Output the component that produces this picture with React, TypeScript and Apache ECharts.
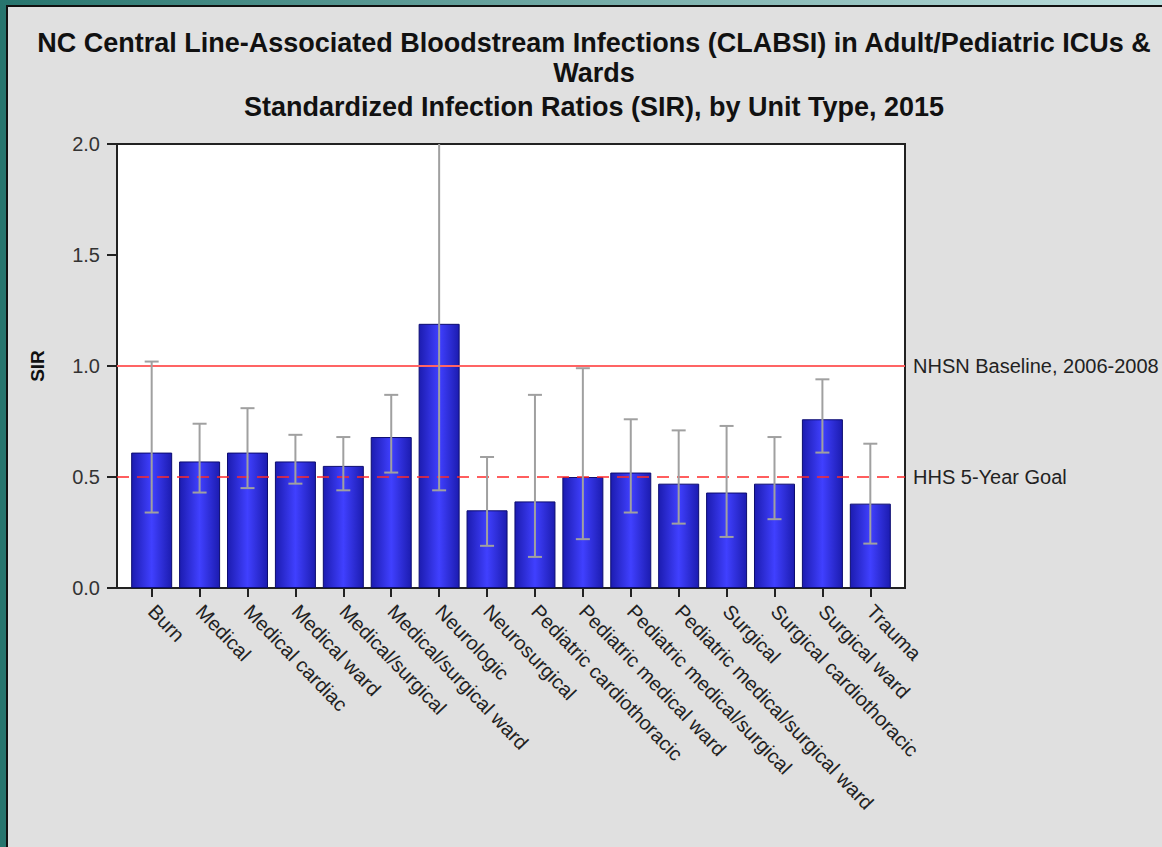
import React, { useEffect, useRef } from "react";
import * as echarts from "echarts";

// Unit types and SIR estimates with 95% confidence limits
const categories = [
  "Burn",
  "Medical",
  "Medical cardiac",
  "Medical ward",
  "Medical/surgical",
  "Medical/surgical ward",
  "Neurologic",
  "Neurosurgical",
  "Pediatric cardiothoracic",
  "Pediatric medical ward",
  "Pediatric medical/surgical",
  "Pediatric medical/surgical ward",
  "Surgical",
  "Surgical cardiothoracic",
  "Surgical ward",
  "Trauma",
];
const sir = [0.61, 0.57, 0.61, 0.57, 0.55, 0.68, 1.19, 0.35, 0.39, 0.5, 0.52, 0.47, 0.43, 0.47, 0.76, 0.38];
const lowerCI = [0.34, 0.43, 0.45, 0.47, 0.44, 0.52, 0.44, 0.19, 0.14, 0.22, 0.34, 0.29, 0.23, 0.31, 0.61, 0.2];
const upperCI = [1.02, 0.74, 0.81, 0.69, 0.68, 0.87, 2.6, 0.59, 0.87, 0.99, 0.76, 0.71, 0.73, 0.68, 0.94, 0.65];

const yTicks = [0, 0.5, 1.0, 1.5, 2.0];
const baseline = { value: 1.0, label: "NHSN Baseline, 2006-2008" };
const goal = { value: 0.5, label: "HHS 5-Year Goal" };

const titleLines = [
  "NC Central Line-Associated Bloodstream Infections (CLABSI) in Adult/Pediatric ICUs &",
  "Wards",
  "Standardized Infection Ratios (SIR), by Unit Type, 2015",
];

const FONT = "'Liberation Sans', Arial, sans-serif";

export default function App() {
  const ref = useRef<HTMLDivElement>(null);

  useEffect(() => {
    if (!ref.current) return;
    const chart = echarts.init(ref.current, undefined, { renderer: "svg" });
    const yMin = yTicks[0];
    const yMax = yTicks[yTicks.length - 1];
    const titleY = [43, 73, 107];
    const positions = categories.map((_, i) => i);
    // extra room on both sides of the first and last bar
    const edgePad = 0.724;

    chart.setOption({
      animation: false,
      backgroundColor: "#e0e0e0",
      textStyle: { fontFamily: FONT },
      graphic: [
        { type: "rect", shape: { x: 0, y: 0, width: 6, height: 847 }, style: { fill: "#27756e" } },
        {
          type: "rect",
          shape: { x: 0, y: 0, width: 1162, height: 5 },
          style: {
            fill: new echarts.graphic.LinearGradient(0, 0, 1, 0, [
              { offset: 0, color: "#27756e" },
              { offset: 1, color: "#bfe0df" },
            ]),
          },
        },
        { type: "rect", shape: { x: 6, y: 5, width: 2, height: 842 }, style: { fill: "#111" } },
        { type: "rect", shape: { x: 6, y: 5, width: 1156, height: 2 }, style: { fill: "#111" } },
        ...titleLines.map((t, i) => ({
          type: "text",
          x: 594,
          y: titleY[i],
          style: {
            text: t,
            font: `bold 27px ${FONT}`,
            fill: "#111",
            textAlign: "center",
            textVerticalAlign: "middle",
          },
        })),
      ],
      grid: {
        left: 117,
        top: 144,
        right: 257,
        bottom: 259,
        show: true,
        backgroundColor: "#ffffff",
        borderColor: "#222",
        borderWidth: 2,
      },
      xAxis: {
        type: "value",
        min: -edgePad,
        max: categories.length - 1 + edgePad,
        splitLine: { show: false },
        axisLine: { show: true, onZero: false, lineStyle: { color: "#222", width: 2 } },
        axisTick: {
          show: true,
          customValues: positions,
          length: 9,
          lineStyle: { color: "#222", width: 2 },
        },
        axisLabel: {
          customValues: positions,
          rotate: -46,
          margin: 20,
          fontSize: 20,
          color: "#222",
          fontFamily: FONT,
          formatter: (v: number) => categories[Math.round(v)] ?? "",
        },
      },
      yAxis: {
        type: "value",
        min: yMin,
        max: yMax,
        interval: 0.5,
        name: "SIR",
        nameLocation: "middle",
        nameRotate: 90,
        nameGap: 70,
        nameTextStyle: { fontSize: 19, fontWeight: "bold", color: "#111", fontFamily: FONT },
        axisLine: { show: true, onZero: false, lineStyle: { color: "#222", width: 2 } },
        axisTick: { show: true, length: 10, lineStyle: { color: "#222", width: 2 } },
        splitLine: { show: false },
        axisLabel: {
          fontSize: 20,
          color: "#333",
          margin: 17,
          fontFamily: FONT,
          formatter: (v: number) => v.toFixed(1),
        },
      },
      series: [
        {
          type: "bar",
          data: sir.map((v, i) => [i, v]),
          barWidth: 41,
          itemStyle: {
            color: new echarts.graphic.LinearGradient(0, 0, 1, 0, [
              { offset: 0, color: "#1c1cb0" },
              { offset: 0.5, color: "#4040ff" },
              { offset: 1, color: "#1c1cb0" },
            ]),
            borderColor: "#0c0c70",
            borderWidth: 1,
          },
          markLine: {
            silent: true,
            symbol: ["none", "none"],
            label: {
              position: "end",
              distance: 8,
              fontSize: 20,
              color: "#222",
              fontFamily: FONT,
            },
            data: [
              {
                yAxis: baseline.value,
                label: { formatter: baseline.label },
                lineStyle: { color: "#ff6464", type: "solid", width: 2 },
              },
              {
                yAxis: goal.value,
                label: { formatter: goal.label },
                lineStyle: { color: "#ff2a2a", type: [12, 8], width: 1.5 },
              },
            ],
          },
        },
        {
          type: "custom",
          z: 5,
          data: categories.map((_, i) => [i, lowerCI[i], upperCI[i]]),
          encode: { x: 0, y: [1, 2] },
          renderItem: (params: any, api: any) => {
            const idx = api.value(0);
            const lo = api.value(1);
            const hi = api.value(2);
            const clipped = hi > yMax;
            const pLo = api.coord([idx, lo]);
            const pHi = api.coord([idx, Math.min(hi, yMax)]);
            const half = 7;
            const style = { stroke: "#a0a0a0", lineWidth: 2 };
            const children: any[] = [
              { type: "line", shape: { x1: pLo[0], y1: pLo[1], x2: pHi[0], y2: pHi[1] }, style },
              { type: "line", shape: { x1: pLo[0] - half, y1: pLo[1], x2: pLo[0] + half, y2: pLo[1] }, style },
            ];
            if (!clipped) {
              children.push({
                type: "line",
                shape: { x1: pHi[0] - half, y1: pHi[1], x2: pHi[0] + half, y2: pHi[1] },
                style,
              });
            }
            return { type: "group", children };
          },
        },
      ],
    });

    return () => chart.dispose();
  }, []);

  return (
    <div
      ref={ref}
      style={{ position: "fixed", left: 0, top: 0, width: 1162, height: 847 }}
    />
  );
}
